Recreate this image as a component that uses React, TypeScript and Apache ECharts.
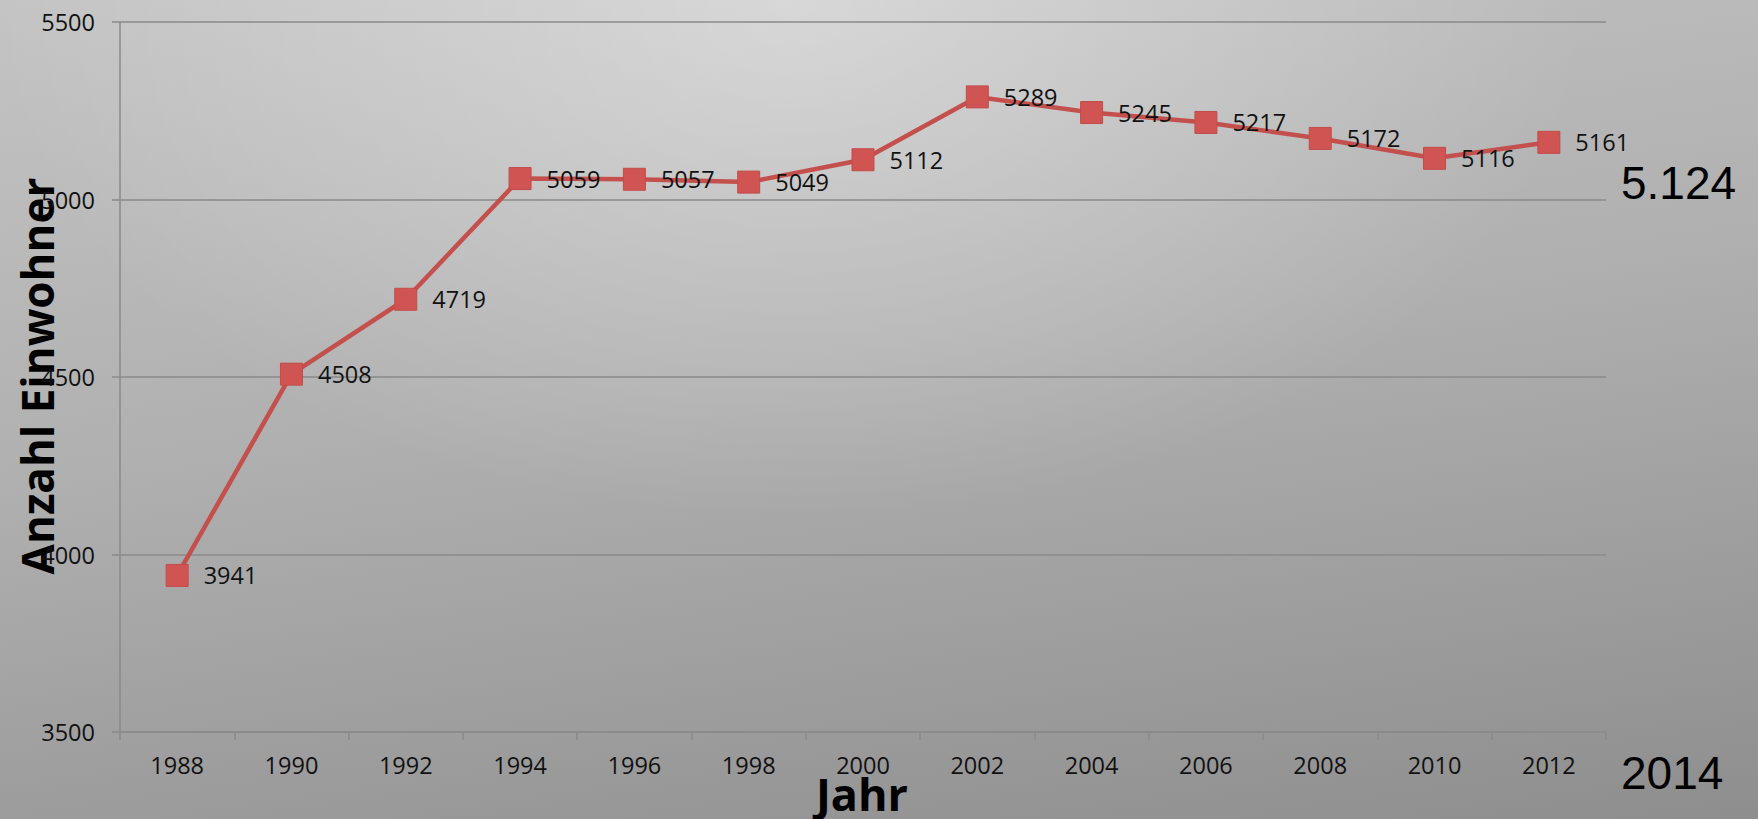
import React, { useEffect, useRef } from "react";
import * as echarts from "echarts";

const years = ["1988", "1990", "1992", "1994", "1996", "1998", "2000", "2002", "2004", "2006", "2008", "2010", "2012"];
const einwohner = [3941, 4508, 4719, 5059, 5057, 5049, 5112, 5289, 5245, 5217, 5172, 5116, 5161];
const yAxisTitle = "Anzahl Einwohner";
const xAxisTitle = "Jahr";
const currentValue = "5.124";
const currentYear = "2014";

export default function App() {
  const ref = useRef<HTMLDivElement>(null);
  useEffect(() => {
    document.body.style.margin = "0";
    const chart = echarts.init(ref.current!, null, { renderer: "svg" });
    const axisColor = "#8a8a8a";
    const labelFont = { fontFamily: "Open Sans", fontSize: 23.5, color: "#111" };
    chart.setOption({
      animation: false,
      grid: { left: 120, top: 22, right: 152, bottom: 87, containLabel: false },
      xAxis: {
        type: "category",
        data: years,
        boundaryGap: true,
        axisLine: { show: true, lineStyle: { color: axisColor, width: 1.5 } },
        axisTick: { show: true, alignWithLabel: false, length: 8, lineStyle: { color: axisColor, width: 1.5 } },
        axisLabel: { ...labelFont, margin: 21 },
        splitLine: { show: false },
      },
      yAxis: {
        type: "value",
        min: 3500,
        max: 5500,
        interval: 500,
        axisLine: { show: true, lineStyle: { color: axisColor, width: 1.5 } },
        axisTick: { show: true, inside: false, length: 8, lineStyle: { color: axisColor, width: 1.5 } },
        axisLabel: { ...labelFont, margin: 25, formatter: (v: number) => String(v) },
        splitLine: { show: true, lineStyle: { color: axisColor, width: 1.5 } },
      },
      series: [
        {
          type: "line",
          data: einwohner,
          symbol: "rect",
          symbolSize: 22,
          lineStyle: { color: "#c4504d", width: 4.5 },
          itemStyle: { color: "#d05552", borderColor: "#c24c49", borderWidth: 1 },
          label: {
            show: true,
            position: "right",
            distance: 15,
            ...labelFont,
          },
        },
      ],
      graphic: [
        {
          type: "text",
          x: 37,
          y: 376,
          rotation: Math.PI / 2,
          style: {
            text: yAxisTitle,
            font: "bold 44px 'Open Sans'",
            fill: "#000",
            textAlign: "center",
            textVerticalAlign: "middle",
          },
        },
        {
          type: "text",
          x: 862,
          y: 793,
          style: {
            text: xAxisTitle,
            font: "bold 45px 'Open Sans'",
            fill: "#000",
            textAlign: "center",
            textVerticalAlign: "middle",
          },
        },
        {
          type: "text",
          x: 1621,
          y: 183,
          style: {
            text: currentValue,
            font: "46px 'Liberation Sans'",
            fill: "#000",
            textAlign: "left",
            textVerticalAlign: "middle",
          },
        },
        {
          type: "text",
          x: 1621,
          y: 773,
          style: {
            text: currentYear,
            font: "46px 'Liberation Sans'",
            fill: "#000",
            textAlign: "left",
            textVerticalAlign: "middle",
          },
        },
      ],
    });
    return () => chart.dispose();
  }, []);
  return (
    <div
      style={{
        position: "absolute",
        left: 0,
        top: 0,
        width: 1758,
        height: 819,
        background:
          "radial-gradient(ellipse 800px 520px at 45% 0%, rgba(255,255,255,0.38), rgba(255,255,255,0) 100%), linear-gradient(172deg, #c4c4c4 0%, #b0b0b0 45%, #8e8e8e 100%)",
      }}
    >
      <div ref={ref} style={{ width: 1758, height: 819 }} />
    </div>
  );
}
